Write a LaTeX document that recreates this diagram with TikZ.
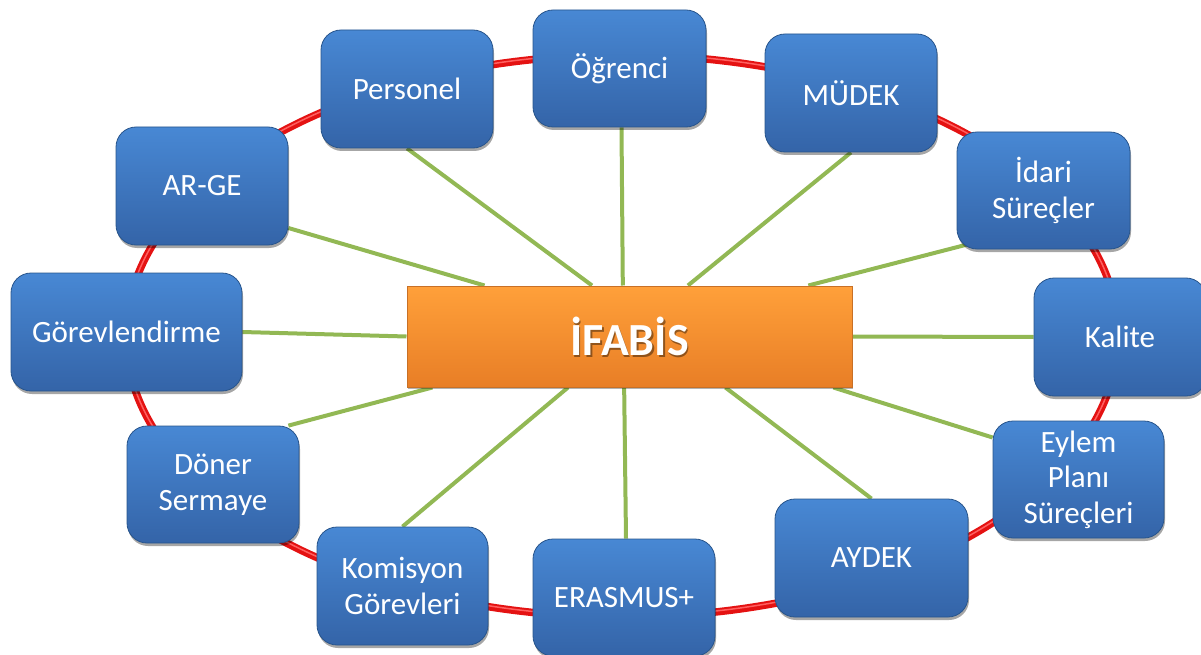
\documentclass[tikz,border=0pt]{standalone}
\usepackage{fontspec}
\setmainfont{Carlito}
\usetikzlibrary{calc,shadows}
\pgfdeclarelayer{bg}
\pgfsetlayers{bg,main}
\definecolor{btop}{RGB}{72,136,212}
\definecolor{bbot}{RGB}{52,100,168}
\definecolor{bline}{RGB}{40,85,140}
\definecolor{otop}{RGB}{255,160,58}
\definecolor{obot}{RGB}{232,126,38}
\definecolor{oline}{RGB}{200,112,38}
\definecolor{ring}{RGB}{228,18,18}
\definecolor{ringhi}{RGB}{255,95,95}
\definecolor{link}{RGB}{146,184,84}
\tikzset{
  bluebox/.style={draw=bline, line width=0.8pt, rounded corners=20pt,
    top color=btop, bottom color=bbot, text=white, align=center,
    inner sep=0pt, font=\fontsize{31}{35.5}\selectfont,
    drop shadow={shadow xshift=1pt, shadow yshift=-3pt, opacity=0.35, fill=black}},
  centerbox/.style={draw=oline, line width=1pt, top color=otop, bottom color=obot,
    inner sep=0pt, minimum width=445pt, minimum height=101pt,
    drop shadow={shadow xshift=1pt, shadow yshift=-2pt, opacity=0.3, fill=black}},
  titletext/.style={font=\fontsize{46}{52}\selectfont\bfseries, text=white, inner sep=0pt},
  titleshadow/.style={font=\fontsize{46}{52}\selectfont\bfseries, text=black, opacity=0.4, inner sep=0pt},
  linkline/.style={draw=link, line width=4pt},
  ringline/.style={draw=ring, line width=7.5pt},
  ringhl/.style={draw=ringhi, line width=1.5pt},
}
\begin{document}
\begin{tikzpicture}[x=1pt,y=-1pt]
\useasboundingbox (0,0) rectangle (1201,655);
% centre
\node[centerbox] (c) at (629.5,336.5) {};
\node[titleshadow] (cs) at ($(c.center)+(1.5,2)$) {İFABİS};
\node[titletext] (ct) at (c.center) {İFABİS};
% boxes
\node[bluebox, minimum width=172pt, minimum height=118pt] (personel) at (407,89) {Personel};
\node[bluebox, minimum width=173pt, minimum height=117pt] (ogrenci) at (619.5,68.5) {Öğrenci};
\node[bluebox, minimum width=172pt, minimum height=118pt] (mudek) at (851,93) {MÜDEK};
\node[bluebox, minimum width=173pt, minimum height=117pt] (idari) at (1043.5,190.5) {İdari\\Süreçler};
\node[bluebox, minimum width=172pt, minimum height=118pt] (kalite) at (1120,337) {Kalite};
\node[bluebox, minimum width=171pt, minimum height=117pt] (eylem) at (1078.5,479.5) {Eylem\\Planı\\Süreçleri};
\node[bluebox, minimum width=193pt, minimum height=118pt] (aydek) at (871.5,558) {AYDEK};
\node[bluebox, minimum width=182pt, minimum height=117pt] (erasmus) at (624,597.5) {ERASMUS+};
\node[bluebox, minimum width=171pt, minimum height=118pt] (komisyon) at (402.5,586) {Komisyon\\Görevleri};
\node[bluebox, minimum width=172pt, minimum height=117pt] (doner) at (213,484.5) {Döner\\Sermaye};
\node[bluebox, minimum width=231pt, minimum height=118pt] (gorev) at (126.5,332) {Görevlendirme};
\node[bluebox, minimum width=172pt, minimum height=118pt] (arge) at (202,186) {AR-GE};
\begin{pgfonlayer}{bg}
\draw[ringline] (622,336) ellipse [x radius=496pt, y radius=281pt];
\draw[ringhl] (622,335) ellipse [x radius=496pt, y radius=281pt];
\draw[linkline] ($(arge.east)+(0,42)$) -- ($(c.north west)!0.175!(c.north east)$);
\draw[linkline] (personel.south) -- ($(c.north west)!0.416!(c.north east)$);
\draw[linkline] ($(ogrenci.south)+(2,0)$) -- ($(c.north west)!0.485!(c.north east)$);
\draw[linkline] (mudek.south) -- ($(c.north west)!0.631!(c.north east)$);
\draw[linkline] ($(idari.south west)+(11,-5)$) -- ($(c.north west)!0.901!(c.north east)$);
\draw[linkline] (kalite.west) -- (c.east);
\draw[linkline] (gorev.east) -- (c.west);
\draw[linkline] ($(eylem.west)+(0,-42)$) -- ($(c.south west)!0.957!(c.south east)$);
\draw[linkline] (aydek.north) -- ($(c.south west)!0.715!(c.south east)$);
\draw[linkline] ($(erasmus.north)+(2,0)$) -- ($(c.south west)!0.488!(c.south east)$);
\draw[linkline] (komisyon.north) -- ($(c.south west)!0.362!(c.south east)$);
\draw[linkline] ($(doner.north east)+(-11,0)$) -- ($(c.south west)!0.058!(c.south east)$);
\end{pgfonlayer}
\end{tikzpicture}
\end{document}
